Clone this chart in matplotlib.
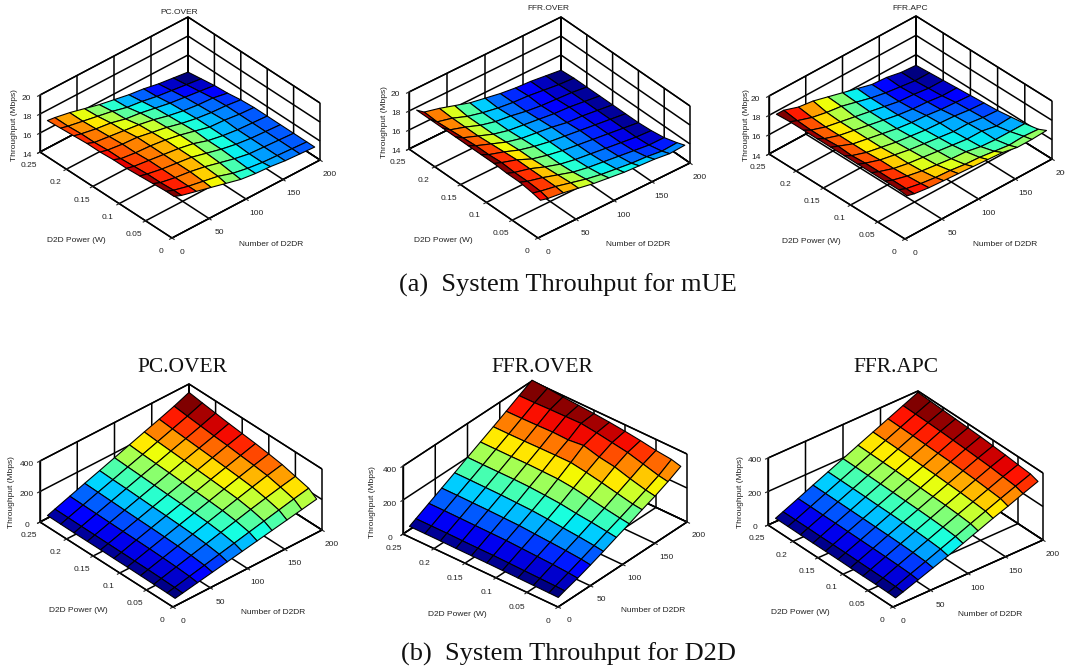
import math
import numpy as np
import matplotlib
matplotlib.use("Agg")
import matplotlib.pyplot as plt
from mpl_toolkits.mplot3d import proj3d

plt.rcParams['font.family'] = ['Liberation Sans', 'DejaVu Sans']
plt.rcParams['font.size'] = 6
plt.rcParams['grid.color'] = 'black'
plt.rcParams['grid.linewidth'] = 1.1
plt.rcParams['axes.linewidth'] = 1.0
plt.rcParams['axes3d.grid'] = True

W, H = 1065, 671

number = [10, 20, 40, 60, 80, 100, 120, 140, 160, 180, 200]
power = [0.01, 0.025, 0.05, 0.075, 0.1, 0.125, 0.15, 0.175, 0.2, 0.225, 0.25]

number_ticks = [0, 50, 100, 150, 200]
power_ticks = [0, 0.05, 0.1, 0.15, 0.2, 0.25]
power_tick_labels = ['0', '0.05', '0.1', '0.15', '0.2', '0.25']
mue_ticks = [14, 16, 18, 20]
d2d_ticks = [0, 200, 400]

# filas = potencia, columnas = numero de D2DR
mue_pc_over = [
    [17.6, 17.3, 16.9, 16.5, 16.1, 15.7, 15.5, 15.4, 15.2, 15.1, 15.0],
    [17.6, 17.3, 16.9, 16.6, 16.3, 15.8, 15.5, 15.3, 15.2, 15.1, 15.0],
    [17.5, 17.2, 16.9, 16.7, 16.4, 16.0, 15.6, 15.3, 15.2, 15.1, 15.0],
    [17.4, 17.2, 16.9, 16.7, 16.5, 16.1, 15.7, 15.4, 15.2, 15.1, 15.0],
    [17.3, 17.1, 16.9, 16.7, 16.5, 16.2, 15.7, 15.4, 15.2, 15.1, 15.0],
    [17.3, 17.0, 16.8, 16.7, 16.5, 16.2, 15.8, 15.4, 15.3, 15.1, 15.0],
    [17.2, 17.0, 16.8, 16.7, 16.4, 16.1, 15.7, 15.4, 15.2, 15.1, 14.9],
    [17.2, 16.9, 16.7, 16.5, 16.3, 16.0, 15.6, 15.3, 15.1, 15.0, 14.7],
    [17.1, 16.9, 16.6, 16.4, 16.0, 15.8, 15.5, 15.2, 15.0, 14.8, 14.6],
    [17.0, 16.8, 16.5, 16.2, 15.9, 15.5, 15.3, 15.0, 14.8, 14.6, 14.4],
    [16.9, 16.8, 16.5, 16.1, 15.7, 15.4, 15.1, 14.9, 14.6, 14.4, 14.2],
]
mue_ffr_over = [
    [17.2, 17.0, 16.8, 16.5, 16.2, 16.0, 15.8, 15.7, 15.6, 15.4, 15.5],
    [17.4, 17.2, 16.9, 16.5, 16.1, 15.8, 15.6, 15.4, 15.3, 15.1, 15.2],
    [17.6, 17.3, 16.9, 16.4, 15.9, 15.6, 15.4, 15.2, 15.0, 14.8, 14.8],
    [17.6, 17.3, 16.9, 16.3, 15.8, 15.5, 15.3, 15.1, 14.9, 14.7, 14.6],
    [17.7, 17.4, 16.9, 16.2, 15.8, 15.5, 15.3, 15.1, 14.9, 14.7, 14.5],
    [17.7, 17.3, 16.8, 16.2, 15.8, 15.5, 15.3, 15.1, 14.9, 14.7, 14.5],
    [17.7, 17.3, 16.7, 16.1, 15.7, 15.5, 15.3, 15.0, 14.9, 14.7, 14.5],
    [17.7, 17.2, 16.6, 16.0, 15.6, 15.4, 15.2, 15.0, 14.9, 14.7, 14.5],
    [17.7, 17.1, 16.6, 16.0, 15.6, 15.4, 15.1, 14.9, 14.8, 14.7, 14.5],
    [17.7, 17.0, 16.6, 16.0, 15.6, 15.3, 15.1, 15.0, 14.8, 14.6, 14.5],
    [17.7, 17.1, 16.7, 16.2, 15.7, 15.4, 15.1, 14.9, 14.8, 14.6, 14.4],
]
mue_ffr_apc = [
    [17.7, 17.5, 17.3, 17.2, 17.1, 17.0, 16.9, 16.8, 16.5, 16.5, 16.6],
    [17.8, 17.5, 17.2, 17.0, 16.9, 16.7, 16.6, 16.4, 16.2, 16.3, 16.2],
    [17.8, 17.5, 17.1, 16.8, 16.6, 16.4, 16.3, 16.0, 15.9, 15.9, 15.9],
    [17.8, 17.5, 17.0, 16.7, 16.5, 16.3, 16.1, 15.9, 15.9, 15.6, 15.7],
    [17.8, 17.5, 17.0, 16.7, 16.4, 16.2, 16.0, 15.8, 15.8, 15.6, 15.5],
    [17.8, 17.4, 16.9, 16.6, 16.3, 16.1, 15.9, 15.8, 15.7, 15.5, 15.4],
    [17.8, 17.5, 16.9, 16.6, 16.3, 16.0, 15.8, 15.7, 15.5, 15.4, 15.3],
    [17.8, 17.4, 16.9, 16.6, 16.3, 16.0, 15.7, 15.5, 15.4, 15.2, 15.2],
    [17.8, 17.4, 16.9, 16.6, 16.3, 16.0, 15.7, 15.4, 15.3, 15.1, 15.1],
    [17.8, 17.5, 17.0, 16.7, 16.5, 16.1, 15.7, 15.4, 15.2, 15.0, 15.0],
    [17.7, 17.7, 17.2, 17.0, 16.6, 16.2, 15.8, 15.4, 15.3, 15.0, 14.9],
]
d2d_pc_over = [
    [9, 18, 36, 54, 72, 90, 108, 126, 144, 162, 180],
    [11, 22, 44, 66, 88, 110, 132, 154, 176, 198, 218],
    [12, 25, 50, 75, 100, 125, 150, 175, 198, 220, 240],
    [13, 27, 54, 81, 108, 135, 162, 189, 215, 240, 262],
    [14, 28, 57, 85, 113, 141, 169, 197, 224, 251, 276],
    [14, 29, 59, 88, 117, 146, 175, 204, 232, 260, 288],
    [15, 30, 60, 90, 120, 150, 180, 210, 240, 270, 298],
    [15, 31, 62, 93, 124, 155, 186, 217, 247, 277, 308],
    [15, 32, 64, 96, 128, 160, 191, 223, 254, 286, 320],
    [16, 33, 66, 99, 131, 164, 196, 229, 262, 295, 332],
    [17, 34, 68, 102, 135, 169, 203, 237, 270, 305, 345],
]
d2d_ffr_over = [
    [14, 28, 52, 80, 110, 142, 172, 205, 235, 270, 310],
    [15, 30, 58, 88, 118, 150, 180, 212, 245, 280, 325],
    [16, 32, 64, 96, 128, 162, 195, 232, 268, 305, 335],
    [17, 34, 68, 102, 136, 172, 212, 252, 295, 330, 350],
    [18, 36, 72, 108, 145, 185, 228, 270, 310, 345, 362],
    [19, 38, 76, 114, 152, 192, 238, 285, 335, 360, 372],
    [19, 38, 77, 116, 155, 198, 240, 285, 325, 372, 380],
    [19, 39, 78, 118, 158, 200, 242, 284, 328, 370, 386],
    [20, 40, 79, 119, 159, 200, 241, 282, 325, 368, 392],
    [20, 40, 80, 120, 160, 200, 241, 281, 323, 365, 400],
    [20, 40, 80, 120, 160, 201, 241, 281, 322, 364, 405],
]
d2d_ffr_apc = [
    [15, 30, 62, 94, 126, 160, 195, 230, 262, 297, 330],
    [17, 33, 68, 102, 137, 172, 208, 243, 278, 312, 345],
    [18, 35, 71, 107, 143, 179, 215, 250, 285, 320, 352],
    [18, 36, 73, 110, 147, 183, 220, 256, 292, 328, 360],
    [18, 37, 74, 112, 149, 186, 223, 260, 297, 333, 366],
    [19, 38, 75, 113, 151, 188, 226, 264, 301, 338, 372],
    [19, 38, 76, 114, 152, 190, 228, 266, 304, 342, 376],
    [19, 38, 77, 115, 154, 192, 231, 269, 307, 346, 380],
    [19, 39, 77, 116, 155, 194, 232, 271, 310, 349, 384],
    [20, 39, 78, 117, 156, 195, 234, 273, 312, 351, 388],
    [20, 39, 78, 118, 157, 196, 236, 275, 314, 353, 392],
]

TXT = '#222222'


def fit_axes(ax, right, left, zlo):
    # mueve los ejes para que las esquinas de la caja caigan en los pixeles pedidos
    xl, yl = ax.get_xlim(), ax.get_ylim()
    size, cx, cy = 0.6 * W, (right[0] + left[0]) / 2, H - (right[1] + left[1]) / 2
    for _ in range(3):
        ax.set_position([(cx - size / 2) / W, (cy - size / 2) / H, size / W, size / H])
        ax.apply_aspect()
        M = ax.get_proj()
        b = ax.transData.transform(proj3d.proj_transform(xl[1], yl[0], zlo, M)[:2])
        c = ax.transData.transform(proj3d.proj_transform(xl[0], yl[1], zlo, M)[:2])
        size *= (right[0] - left[0]) / abs(b[0] - c[0])
        mid = (b + c) / 2
        cx += (right[0] + left[0]) / 2 - mid[0]
        cy += H - (right[1] + left[1]) / 2 - mid[1]


def panel(fig, z, zticks, title, front, right, left, ztop, title_xy, title_style, num_xy, pow_xy, thr_xy):
    ux, vx = right[0] - front[0], front[1] - right[1]
    uy, vy = front[0] - left[0], front[1] - left[1]
    h = left[1] - ztop[1]
    sin_e = math.sqrt((vx / ux) * (vy / uy))
    elev = math.asin(sin_e)
    a = math.atan((vy / uy) / sin_e)
    aspect = (ux / math.sin(a), uy / math.cos(a), h / math.cos(elev))

    ax = fig.add_axes([0.1, 0.1, 0.5, 0.5], projection='3d', proj_type='ortho')
    ax.patch.set_visible(False)
    ax.view_init(elev=math.degrees(elev), azim=-180 + math.degrees(a))
    ax.set_box_aspect(aspect)

    X, Y = np.meshgrid(number, power)
    Z = np.array(z, dtype=float)
    # color de cada cara = media de sus 4 esquinas, escala jet completa
    faces = (Z[:-1, :-1] + Z[1:, :-1] + Z[:-1, 1:] + Z[1:, 1:]) / 4
    norm = plt.Normalize(faces.min(), faces.max())
    ax.plot_surface(X, Y, Z, rstride=1, cstride=1, facecolors=plt.cm.jet(norm(faces)), shade=False,
                    edgecolor='black', linewidth=0.8, antialiased=True)

    ax.set_xlim(0, 200, view_margin=0)
    ax.set_ylim(0, 0.25, view_margin=0)
    ax.set_zlim(zticks[0], zticks[-1], view_margin=0)
    ax.set_xticks(number_ticks)
    ax.set_yticks(power_ticks)
    ax.set_yticklabels(power_tick_labels)
    ax.set_zticks(zticks)

    for axis in (ax.xaxis, ax.yaxis, ax.zaxis):
        axis.set_pane_color((1, 1, 1, 1))
        axis.pane.set_edgecolor('black')
        axis.pane.set_linewidth(1.0)
    ax.tick_params(axis='both', pad=0, labelsize=6, colors=TXT)
    ax.tick_params(axis='z', pad=-3)

    fit_axes(ax, right, left, zticks[0])

    fig.text(title_xy[0] / W, 1 - title_xy[1] / H, title, ha='center', va='center', **title_style)
    label = dict(fontsize=6, color=TXT, ha='center', va='center')
    fig.text(num_xy[0] / W, 1 - num_xy[1] / H, 'Number of D2DR', **label)
    fig.text(pow_xy[0] / W, 1 - pow_xy[1] / H, 'D2D Power (W)', **label)
    fig.text(thr_xy[0] / W, 1 - thr_xy[1] / H, 'Throughput (Mbps)', rotation=90, **label)
    return ax


fig = plt.figure(figsize=(W / 100, H / 100), dpi=100)

small = dict(fontsize=6, color=TXT)
big = dict(fontsize=15.5, family=['Liberation Serif'], color='#111111')

panel(fig, mue_pc_over, mue_ticks, 'PC.OVER', (172, 238), (320, 160), (40, 152), (40, 95), (179, 12), small,
      (271, 244), (76, 241), (15, 125))
panel(fig, mue_ffr_over, mue_ticks, 'FFR.OVER', (538, 238), (690, 163), (409, 149), (409, 92), (548, 9), small,
      (638, 244), (443, 241), (384, 122))
panel(fig, mue_ffr_apc, mue_ticks, 'FFR.APC', (905, 239), (1052, 159), (769, 154), (769, 96), (910, 8), small,
      (1005, 244), (811, 242), (746, 125))
panel(fig, d2d_pc_over, d2d_ticks, 'PC.OVER', (173, 607), (322, 530), (40, 522), (40, 461), (182, 367), big,
      (273, 612), (78, 611), (12, 492))
panel(fig, d2d_ffr_over, d2d_ticks, 'FFR.OVER', (558, 607), (687, 522), (403, 534), (403, 466), (542, 367), big,
      (653, 610), (457, 614), (372, 502))
panel(fig, d2d_ffr_apc, d2d_ticks, 'FFR.APC', (893, 607), (1043, 540), (768, 525), (768, 458), (896, 367), big,
      (990, 614), (800, 612), (740, 492))

caption = dict(fontsize=19, family=['Liberation Serif'], color='#111111', ha='center', va='center')
fig.text(568 / W, 1 - 285 / H, '(a)  System Throuhput for mUE', **caption)
fig.text(568 / W, 1 - 654 / H, '(b)  System Throuhput for D2D', **caption)

fig.savefig('out.png', dpi=100)
